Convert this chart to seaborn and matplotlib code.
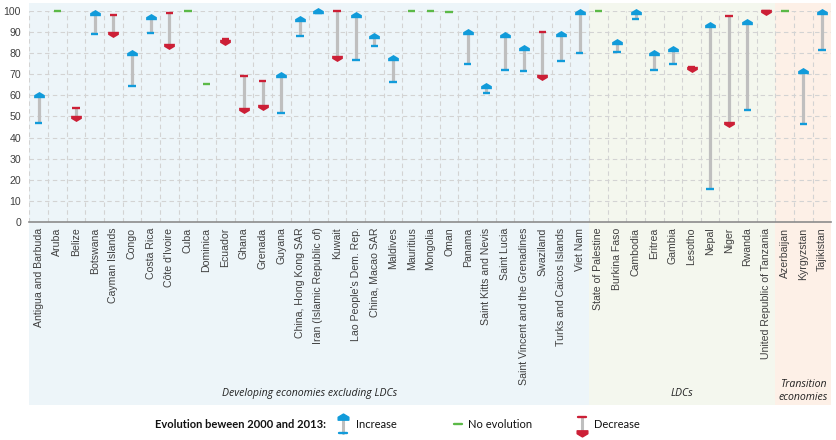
import numpy as np
import pandas as pd
import matplotlib
matplotlib.use("Agg")
import matplotlib.pyplot as plt
import seaborn as sns
from matplotlib.path import Path
from matplotlib.patches import Rectangle
from matplotlib.lines import Line2D
import matplotlib.transforms as mtransforms

# ---------------- data ----------------
countries = [
    "Antigua and Barbuda", "Aruba", "Belize", "Botswana", "Cayman Islands", "Congo",
    "Costa Rica", "Côte d'Ivoire", "Cuba", "Dominica", "Ecuador", "Ghana", "Grenada",
    "Guyana", "China, Hong Kong SAR", "Iran (Islamic Republic of)", "Kuwait",
    "Lao People's Dem. Rep.", "China, Macao SAR", "Maldives", "Mauritius", "Mongolia",
    "Oman", "Panama", "Saint Kitts and Nevis", "Saint Lucia",
    "Saint Vincent and the Grenadines", "Swaziland", "Turks and Caicos Islands",
    "Viet Nam",
    "State of Palestine", "Burkina Faso", "Cambodia", "Eritrea", "Gambia", "Lesotho",
    "Nepal", "Niger", "Rwanda", "United Republic of Tanzania",
    "Azerbaijan", "Kyrgyzstan", "Tajikistan",
]
groups = (["Developing economies excluding LDCs"] * 30 + ["LDCs"] * 10
          + ["Transition\neconomies"] * 3)
val_2000 = [47, 100, 54, 89, 98, 64.5, 89.5, 99.2, 100, 65.5, 86.5, 69, 67, 51.5,
            88, 99, 100, 77, 83.5, 66.5, 100, 100, 99.5, 75, 61, 72, 71.5, 90, 76.5, 80,
            100, 80.5, 96.2, 72, 75, 73.5, 15.6, 97.5, 53, 100,
            100, 46.5, 81.5]
val_2013 = [60, 100, 49.5, 99, 89, 80, 97, 83.5, 100, 65.5, 85.5, 53, 54.5, 69.5,
            96, 100, 77.5, 98, 88, 77.5, 100, 100, 99.5, 90, 64.5, 88.5, 82.5, 68.5, 89, 99.5,
            100, 85.5, 99.7, 80, 82, 72.7, 93.5, 46.5, 95, 99.3,
            100, 71.5, 99.5]
group_names = ["Developing economies excluding LDCs", "LDCs", "Transition\neconomies"]
group_colors = ["#EDF5F9", "#F4F7EE", "#FDF0E7"]
legend_title = "Evolution beween 2000 and 2013:"
legend_labels = ["Increase", "No evolution", "Decrease"]

BLUE = "#119BDA"
RED = "#CC1F36"
GREEN = "#5BB947"
GREY = "#BFBFBF"
TXT = "#404040"

df = pd.DataFrame({"country": countries, "group": groups,
                   "v2000": val_2000, "v2013": val_2013})
df["pos"] = np.arange(len(df))
df["trend"] = np.where(df.v2013 > df.v2000, "Increase",
                       np.where(df.v2013 < df.v2000, "Decrease", "No evolution"))

# ---------------- figure ----------------
sns.set_theme(style="white")
plt.rcParams["font.family"] = ["Liberation Sans", "DejaVu Sans"]

W, H = 837, 440
fig = plt.figure(figsize=(W / 100, H / 100), dpi=100)
ax_l, ax_r, ax_t, ax_b = 29.4, 831.4, 11, 222
ax = fig.add_axes([ax_l / W, 1 - ax_b / H, (ax_r - ax_l) / W, (ax_b - ax_t) / H])
ax.set_facecolor("none")
ax.set_axisbelow(True)

n = len(df)
ax.set_xlim(-0.5, n - 0.5)
ax.set_ylim(0, 100)

def ay(px):
    return (ax_b - px) / (ax_b - ax_t)

blend = mtransforms.blended_transform_factory(ax.transData, ax.transAxes)

# group backgrounds + labels
for g, col in zip(group_names, group_colors):
    sub = df[df.group == g]
    x0 = sub.pos.min() - 0.5
    x1 = sub.pos.max() + 0.5
    ax.add_patch(Rectangle((x0, ay(405)), x1 - x0, ay(3) - ay(405), transform=blend,
                           facecolor=col, edgecolor="none", clip_on=False, zorder=0))
    ax.text((x0 + x1) / 2, ay(391 if "\n" in g else 393), g, transform=blend,
            ha="center", va="center", fontstyle="italic", fontsize=7.6,
            family=["Open Sans", "DejaVu Sans"], color="#222222", linespacing=1.25)

# connectors
ax.vlines(df.pos, df.v2000, df.v2013, color=GREY, lw=2.3, zorder=2)

# start bars
bar_colors = df.trend.map({"Increase": BLUE, "Decrease": RED, "No evolution": GREEN})
ax.hlines(df.v2000, df.pos - 0.2, df.pos + 0.2, colors=bar_colors, lw=1.7,
          zorder=3, clip_on=False)

# arrowheads
up_path = Path([(-1, -0.5), (1, -0.5), (1, 0.05), (0, 0.65), (-1, 0.05), (-1, -0.5)],
               closed=True)
down_path = Path([(-1, 0.5), (1, 0.5), (1, -0.05), (0, -0.65), (-1, -0.05), (-1, 0.5)],
                 closed=True)
sns.scatterplot(data=df[df.trend == "Increase"], x="pos", y="v2013", marker=up_path,
                color=BLUE, s=60, linewidth=0, ax=ax, zorder=4, clip_on=False,
                legend=False)
sns.scatterplot(data=df[df.trend == "Decrease"], x="pos", y="v2013", marker=down_path,
                color=RED, s=60, linewidth=0, ax=ax, zorder=4, clip_on=False,
                legend=False)

# axes styling
ax.set_xticks(df.pos)
ax.set_xticklabels(df.country, rotation=90, fontsize=7.6, color=TXT)
ax.set_xticks(np.arange(-0.5, n - 1, 1), minor=True)
ax.set_yticks(np.arange(0, 101, 10))
ax.tick_params(axis="y", labelsize=7.6, labelcolor=TXT, length=0, pad=6)
ax.tick_params(axis="x", which="both", length=0, pad=4)
ax.grid(False)
ax.yaxis.grid(True, color="#D3D3D3", linestyle=(0, (4, 3)), lw=0.8)
ax.xaxis.grid(True, which="minor", color="#D3D3D3", linestyle=(0, (4, 3)), lw=0.8)
for s in ["top", "right", "left"]:
    ax.spines[s].set_visible(False)
ax.spines["bottom"].set_color("#8C8C8C")
ax.spines["bottom"].set_linewidth(1.2)
ax.set_xlabel("")
ax.set_ylabel("")

# ---------------- legend ----------------
def fx(px):
    return px / W

def fy(py):
    return 1 - py / H

LF = ["Lato", "DejaVu Sans"]
ly = 424
fig.text(fx(155), fy(ly), legend_title, ha="left", va="center", fontsize=8,
         fontweight="bold", family=LF, color="#111111")
# increase icon
fig.add_artist(Line2D([fx(343), fx(343)], [fy(433), fy(417)], color=GREY, lw=2.2,
                      transform=fig.transFigure))
fig.add_artist(Line2D([fx(339), fx(347)], [fy(433), fy(433)], color=BLUE, lw=1.7,
                      transform=fig.transFigure))
fig.add_artist(Line2D([fx(343)], [fy(417)], marker=up_path, markersize=7.7, color=BLUE,
                      lw=0, transform=fig.transFigure))
fig.text(fx(356), fy(ly), legend_labels[0], ha="left", va="center", fontsize=8,
         family=LF, color="#111111")
# no evolution icon
fig.add_artist(Line2D([fx(454), fx(462)], [fy(ly), fy(ly)], color=GREEN, lw=1.7,
                      transform=fig.transFigure))
fig.text(fx(468), fy(ly), legend_labels[1], ha="left", va="center", fontsize=8,
         family=LF, color="#111111")
# decrease icon
fig.add_artist(Line2D([fx(582), fx(582)], [fy(417), fy(433)], color=GREY, lw=2.2,
                      transform=fig.transFigure))
fig.add_artist(Line2D([fx(578), fx(586)], [fy(417), fy(417)], color=RED, lw=1.7,
                      transform=fig.transFigure))
fig.add_artist(Line2D([fx(582)], [fy(433)], marker=down_path, markersize=7.7, color=RED,
                      lw=0, transform=fig.transFigure))
fig.text(fx(594), fy(ly), legend_labels[2], ha="left", va="center", fontsize=8,
         family=LF, color="#111111")

fig.savefig("out.png", dpi=100)
